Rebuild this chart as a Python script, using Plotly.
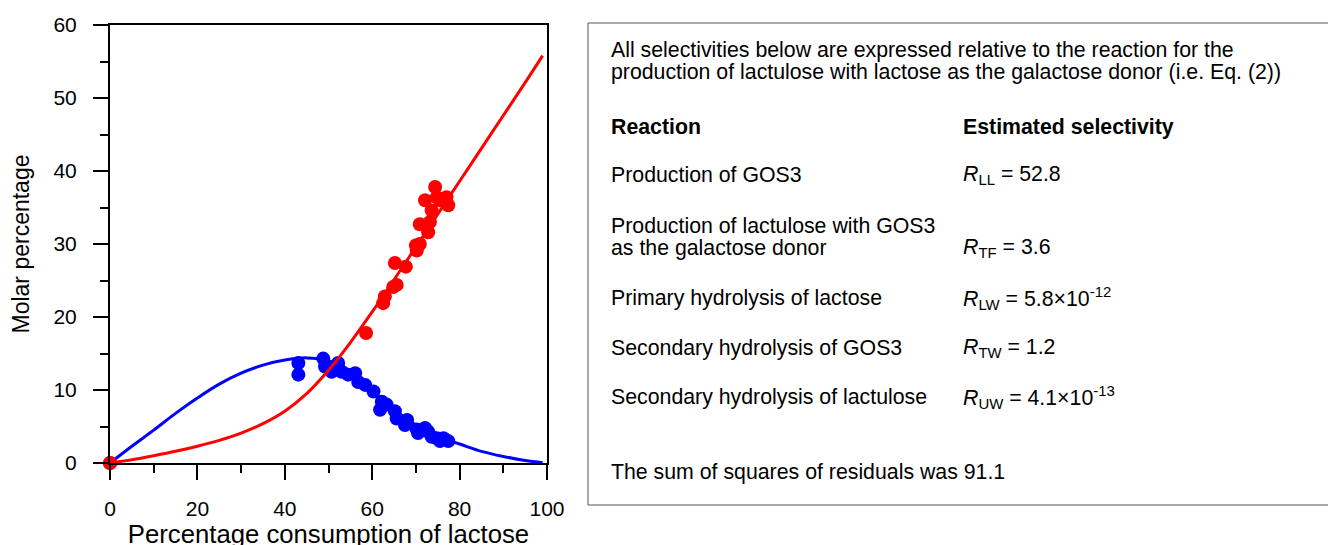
import plotly.graph_objects as go

# ---- model curves ----
curve_x = [0, 5, 10, 15, 20, 25, 30, 35, 40, 45, 50, 55, 60, 65, 70, 75, 80, 85, 90, 95, 99]
blue_curve = [0, 2.3, 4.5, 6.8, 8.9, 10.8, 12.3, 13.4, 14.1, 14.4, 14.0, 12.6, 9.9, 7.3, 5.2, 3.6, 2.6, 1.6, 0.9, 0.35, 0.05]
red_curve = [0, 0.45, 1.0, 1.6, 2.3, 3.1, 4.1, 5.4, 7.1, 9.5, 12.7, 16.5, 20.7, 25.1, 29.6, 34.1, 38.6, 43.1, 47.6, 52.1, 55.8]

# ---- experimental points ----
blue_x = [0, 43.1, 43.1, 48.8, 49.2, 50.7, 52.2, 53.0, 54.5, 56.1, 56.8, 58.4, 60.3, 62.2, 61.8, 63.3,
          65.2, 65.6, 67.5, 68.0, 70.2, 70.5, 72.1, 72.8, 73.6, 74.8, 75.5, 76.3, 77.4]
blue_y = [0, 13.7, 12.1, 14.3, 13.2, 12.5, 13.7, 12.5, 12.1, 12.3, 11.1, 10.7, 9.8, 8.4, 7.3, 8.0,
          7.1, 6.1, 5.2, 5.9, 4.6, 4.1, 4.8, 4.3, 3.6, 3.4, 3.0, 3.4, 3.0]
red_x = [0, 58.6, 62.5, 62.9, 64.8, 65.6, 65.2, 67.7, 70.0, 70.2, 70.9, 70.9, 72.8, 73.2, 72.1,
         74.4, 73.6, 75.5, 77.0, 77.4, 74.8]
red_y = [0, 17.8, 21.9, 22.8, 24.1, 24.4, 27.4, 26.9, 29.8, 29.1, 30.0, 32.7, 31.6, 33.0, 36.0,
         37.8, 34.6, 36.0, 36.4, 35.3, 36.4]

x_ticks = [0, 20, 40, 60, 80, 100]
y_ticks = [0, 10, 20, 30, 40, 50, 60]

# ---- text panel ----
intro_lines = ["All selectivities below are expressed relative to the reaction for the",
               "production of lactulose with lactose as the galactose donor (i.e. Eq. (2))"]
header = ["Reaction", "Estimated selectivity"]
reactions = ["Production of GOS3",
             "Production of lactulose with GOS3<br>as the galactose donor",
             "Primary hydrolysis of lactose",
             "Secondary hydrolysis of GOS3",
             "Secondary hydrolysis of lactulose"]
selectivities = ["<i>R</i><sub>LL</sub> = 52.8",
                 "<i>R</i><sub>TF</sub> = 3.6",
                 "<i>R</i><sub>LW</sub> = 5.8×10<sup>-12</sup>",
                 "<i>R</i><sub>TW</sub> = 1.2",
                 "<i>R</i><sub>UW</sub> = 4.1×10<sup>-13</sup>"]
footer = "The sum of squares of residuals was 91.1"

W, H = 1336, 545
OFF = 8  # page body margin
L, R, T, B = 110 - OFF, 547 - OFF, 25 - OFF, 463 - OFF
FONT = "Liberation Sans, Arial, sans-serif"

fig = go.Figure()
fig.add_trace(go.Scatter(x=curve_x, y=blue_curve, mode="lines", line=dict(color="#0000ff", width=3, shape="spline"),
                         showlegend=False, cliponaxis=False))
fig.add_trace(go.Scatter(x=blue_x, y=blue_y, mode="markers", marker=dict(color="#0000ff", size=14),
                         showlegend=False, cliponaxis=False))
fig.add_trace(go.Scatter(x=curve_x, y=red_curve, mode="lines", line=dict(color="#ff0000", width=3, shape="spline"),
                         showlegend=False, cliponaxis=False))
fig.add_trace(go.Scatter(x=red_x, y=red_y, mode="markers", marker=dict(color="#ff0000", size=14),
                         showlegend=False, cliponaxis=False))


def px_x(p):
    return (p - OFF - L) / (R - L)


def px_y(p):
    return (B - (p - OFF)) / (B - T)


annots = []


def txt(x, y, s, bold=False):
    annots.append(dict(x=px_x(x), y=px_y(y), xref="paper", yref="paper", text=("<b>%s</b>" % s) if bold else s,
                       showarrow=False, xanchor="left", yanchor="middle", align="left",
                       font=dict(family=FONT, size=21.3, color="black")))


tx, sx = 609, 961
txt(tx, 50, intro_lines[0])
txt(tx, 72, intro_lines[1])
txt(tx, 127, header[0], bold=True)
txt(sx, 127, header[1], bold=True)
rows_y = [175, 237, 298, 348, 397]
for i, (r, s) in enumerate(zip(reactions, selectivities)):
    if "<br>" in r:
        a, b = r.split("<br>")
        txt(tx, 226, a)
        txt(tx, 248, b)
        txt(sx, 248, s)
    else:
        txt(tx, rows_y[i], r)
        txt(sx, rows_y[i], s)
txt(tx, 472, footer)

fig.add_shape(type="rect", xref="paper", yref="paper", x0=px_x(588), x1=px_x(1350), y0=px_y(505), y1=px_y(23),
              line=dict(color="#555555", width=1), fillcolor="rgba(0,0,0,0)")

axis_common = dict(showgrid=False, zeroline=False, showline=True, linecolor="black", linewidth=2, mirror=True,
                   ticks="outside", ticklen=15, tickwidth=2, tickcolor="black",
                   tickfont=dict(family=FONT, size=21, color="black"))

fig.update_xaxes(range=[0, 100], tickvals=x_ticks, ticklabelstandoff=11,
                 minor=dict(dtick=10, ticklen=8, tickwidth=2, tickcolor="black", ticks="outside"),
                 title=dict(text="Percentage consumption of lactose", font=dict(family=FONT, size=25.7, color="black"), standoff=5),
                 **axis_common)
fig.update_yaxes(range=[0, 60], tickvals=y_ticks, ticklabelstandoff=12,
                 minor=dict(dtick=5, ticklen=8, tickwidth=2, tickcolor="black", ticks="outside"),
                 title=dict(text="Molar percentage", font=dict(family=FONT, size=23, color="black"), standoff=21),
                 **axis_common)

fig.update_layout(width=W, height=H, margin=dict(l=L, r=W - R, t=T, b=H - B, autoexpand=False),
                  plot_bgcolor="white", paper_bgcolor="white", annotations=annots, showlegend=False)

fig.write_html("out.html")
